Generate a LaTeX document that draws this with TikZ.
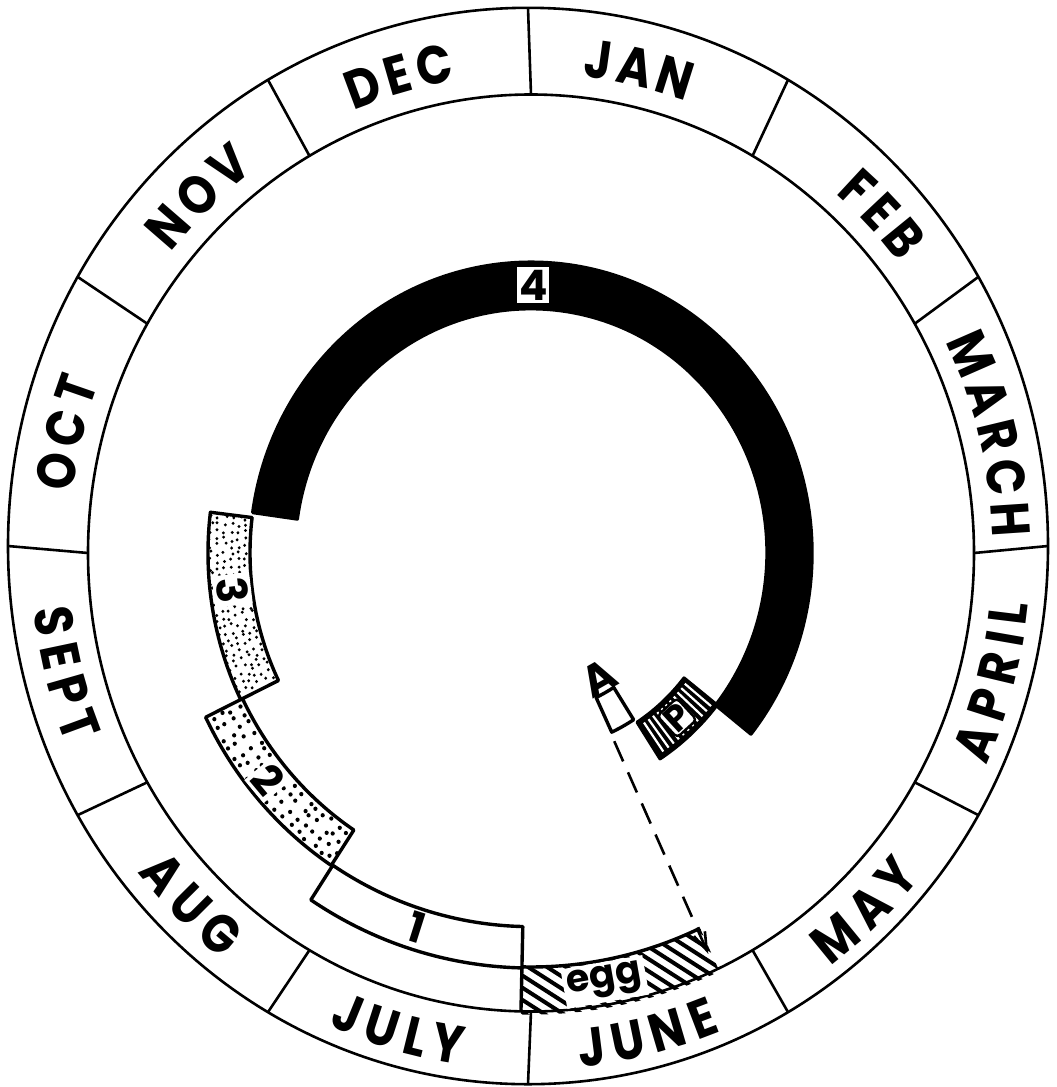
\documentclass[tikz,border=0pt]{standalone}
\usepackage{fontspec}
\newfontfamily\mfont{Poppins}
\usetikzlibrary{arrows.meta}
\newcommand\mfs{\mfont\bfseries\fontsize{27}{27}\selectfont}
\newcommand\mtrack{3}
\newcommand\mxs{0.87}
\newcommand\bandpath[4]{(#1:#3) arc[start angle=#1,end angle=#2,radius=#3] -- (#2:#4) arc[start angle=#2,end angle=#1,radius=#4] -- cycle}
% measure the width (pt) of letter #1 into \mwx
\newcommand\measureletter[1]{%
  \node[month letter, xscale=\mxs] (mtmp) at (0,0) {\phantom{#1}};%
  \pgfpointdiff{\pgfpointanchor{mtmp}{west}}{\pgfpointanchor{mtmp}{east}}%
  \pgfgetlastxy{\mwx}{\mwy}%
  \pgfmathsetmacro\mwx{abs(\mwx)}}
% #1 centre angle, #2 orientation (1 = top, reading clockwise; -1 = bottom), #3 letters
\newcommand\monthlabel[3]{%
  \gdef\mtot{0}%
  \foreach \ch in {#3}{%
    \measureletter{\ch}%
    \pgfmathparse{\mtot+\mwx+\mtrack}%
    \xdef\mtot{\pgfmathresult}}%
  \gdef\mpos{0}%
  \foreach \ch in {#3}{%
    \measureletter{\ch}%
    \pgfmathsetmacro\mw{\mwx+\mtrack}%
    \pgfmathsetmacro\mang{#1-#2*deg((\mpos+\mw/2-\mtot/2)/240.5)}%
    \pgfmathsetmacro\mrot{\mang-#2*90}%
    \node[month letter, rotate=\mrot, xscale=\mxs] at (\mang:481) {\ch};
    \pgfmathparse{\mpos+\mw}\xdef\mpos{\pgfmathresult}}%
}
% stipple: #1 a1, #2 a2, #3 r1, #4 r2, #5 radii list, #6 angle list, #7 dot radius
\newcommand\stipple[7]{%
  \begin{scope}
    \clip \bandpath{#1}{#2}{#3}{#4};
    \foreach \rdq in {#5}
      \foreach \adq in {#6}{%
        \pgfmathsetmacro\jadq{\adq+0.5*(2*rnd-1)}%
        \pgfmathsetmacro\jrdq{\rdq+2*(2*rnd-1)}%
        \fill (\jadq:\jrdq) circle[radius=#7];}
  \end{scope}}
\begin{document}
\begin{tikzpicture}[x=0.5pt,y=0.5pt,
  month letter/.style={font=\mfs, inner sep=0pt, text height=19pt, text depth=0pt},
  ring/.style={line width=1.3pt},
  seg/.style={line width=1.7pt, line join=round},
  lab/.style={font=\mfont\bfseries\fontsize{21}{21}\selectfont, inner sep=1.5pt},
  eggfont/.style={font=\mfont\bfseries\fontsize{19}{19}\selectfont, inner sep=2pt},
]
\useasboundingbox (0,0) rectangle (1056,-1087);
% outer circle of the month ring
\begin{scope}[shift={(528,-546)},yscale=1.035]
  \draw[ring] (0,0) circle[radius=520];
  \foreach \adq in {0,30,...,330} \coordinate (do\adq) at (\adq:520);
\end{scope}
% inner circle, labels and life cycle spiral
\begin{scope}[shift={(531,-553)},yscale=1.035]
  \draw[ring] (0,0) circle[radius=443];
  \foreach \adq in {0,30,...,330} \coordinate (di\adq) at (\adq:443);
  % month names
  \monthlabel{77}{1}{J,A,N}
  \monthlabel{43}{1}{F,E,B}
  \monthlabel{14}{1}{M,A,R,C,H}
  \monthlabel{-15}{-1}{A,P,R,I,L}
  \monthlabel{-46}{-1}{M,A,Y}
  \monthlabel{-76}{-1}{J,U,N,E}
  \monthlabel{-106}{-1}{J,U,L,Y}
  \monthlabel{-135}{-1}{A,U,G}
  \monthlabel{-166}{-1}{S,E,P,T}
  \monthlabel{166}{1}{O,C,T}
  \monthlabel{134}{1}{N,O,V}
  \monthlabel{106}{1}{D,E,C}
  % stage 4 (black)
  \fill[black, draw=black, seg] \bandpath{172}{-38.5}{236}{281};
  \node[lab, fill=white, minimum width=16pt, minimum height=18pt, inner sep=0pt] (s4) at (89.5:259) {4};
  % stage 3 (dense stipple)
  \pgfmathsetseed{11}
  \stipple{173}{206}{281}{323}{286,293,...,321}{173.5,174.8,...,206}{1.6}
  \draw[seg] \bandpath{173}{206}{281}{323};
  \node[lab, fill=white, rotate=-83] (s3) at (186.8:301) {3};
  % stage 2 (sparse stipple)
  \stipple{206}{236.5}{321}{362}{327,337,...,357}{207,208.7,...,236}{2.1}
  \draw[seg] \bandpath{206}{236.5}{321}{362};
  \node[lab, fill=white, rotate=-50] (s2) at (219.8:342) {2};
  % stage 1 (white)
  \draw[seg, fill=white] \bandpath{236.7}{268.7}{361}{401};
  \node[lab, rotate=-17.6] (s1) at (252.4:379) {1};
  % egg (hatched)
  \begin{scope}
    \clip \bandpath{268.7}{295}{400}{446};
    \foreach \kq in {-230,-211,...,230}
      \draw[line width=2pt] (\kq,-330) -- ++(260,-161);
  \end{scope}
  \draw[seg] (268.7:443) -- (268.7:400) arc[start angle=268.7, end angle=295, radius=400];
  \node[eggfont, fill=white, rotate=10] (egg) at (-79.9:421) {egg};
  % pupa (striped)
  \fill[black] \bandpath{-57}{-38.3}{195}{237};
  \foreach \adq in {-55.4,-53.8,...,-39}
    \draw[white, line width=1.1pt] (\adq:199) -- (\adq:233);
  \draw[seg] \bandpath{-57}{-38.3}{195}{237};
  \node[lab, font=\mfont\bfseries\fontsize{18}{18}\selectfont, fill=white, draw=black, line width=1.2pt, rounded corners=2pt, rotate=42.5, inner sep=1pt] (P) at (-47.5:216) {P};
  % adult
  \draw[seg, fill=white] \bandpath{-65}{-57.5}{154}{191};
  \node[lab, font=\mfont\bfseries\fontsize{22}{22}\selectfont, rotate=29.5] (A) at (-60.5:139) {A};
  \coordinate (dstart) at (-65.4:200);
  \coordinate (dend) at (-65.4:426);
  \draw[line width=1.3pt, dash pattern=on 11pt off 6pt, -{Straight Barb[length=9pt,width=6pt]}] (dstart) -- (dend);
\end{scope}
% month dividers
\foreach \adq in {0,30,...,330} \draw[ring] (di\adq) -- (do\adq);
\end{tikzpicture}
\end{document}
